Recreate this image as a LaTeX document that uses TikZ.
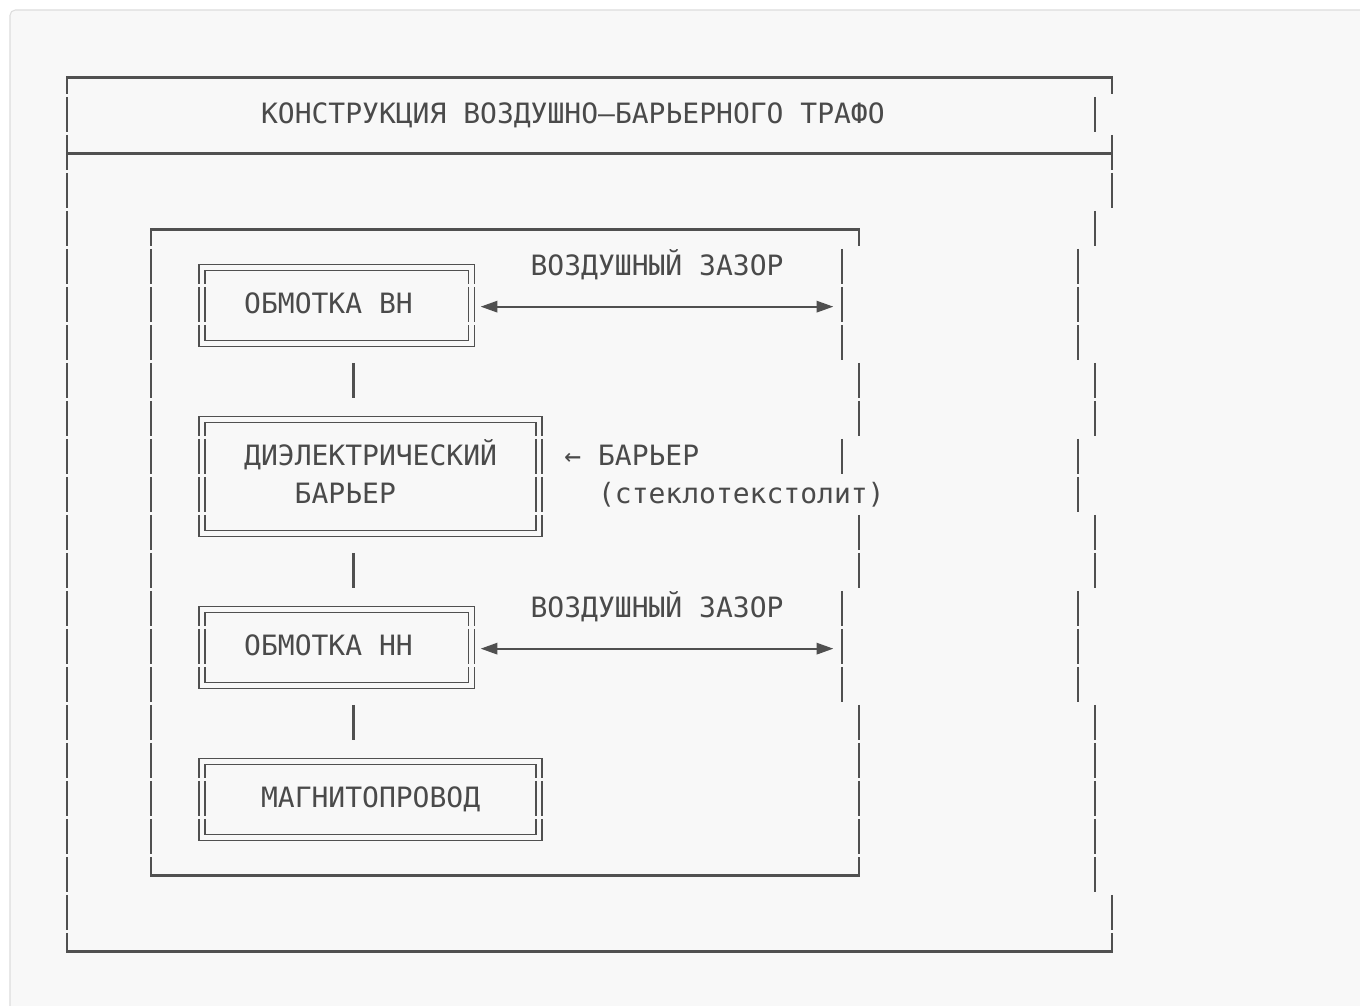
\documentclass[tikz,border=0pt]{standalone}
\usepackage{fontspec}
\newfontfamily\monofnt{DejaVu Sans Mono}
\usetikzlibrary{arrows.meta}
\definecolor{inkc}{HTML}{505050}
\definecolor{txtc}{HTML}{4A4A4A}
\definecolor{bgc}{HTML}{F8F8F8}
\definecolor{framec}{HTML}{DDDDDD}
\def\hi{0.49}
\def\lo{0.43}
\def\dxx{0.178}
\def\dyy{0.079}
\newcommand\vbar[2]{\draw[ln] (#1,{#2-\hi}) -- (#1,{#2+\lo});}
\newcommand\dblbox[4]{%
  \pgfmathsetmacro\xA{#1-\dxx}\pgfmathsetmacro\xB{#1+\dxx}%
  \pgfmathsetmacro\xC{#2-\dxx}\pgfmathsetmacro\xD{#2+\dxx}%
  \pgfmathsetmacro\yA{#3-\dyy}\pgfmathsetmacro\yB{#3+\dyy}%
  \pgfmathsetmacro\yC{#4-\dyy}\pgfmathsetmacro\yD{#4+\dyy}%
  \draw[dbl] (\xA,{#3+\lo}) -- (\xA,\yA) -- (\xD,\yA) -- (\xD,{#3+\lo});
  \draw[dbl] (\xB,{#3+\lo}) -- (\xB,\yB) -- (\xC,\yB) -- (\xC,{#3+\lo});
  \draw[dbl] (\xA,{#4-\hi}) -- (\xA,\yD) -- (\xD,\yD) -- (\xD,{#4-\hi});
  \draw[dbl] (\xB,{#4-\hi}) -- (\xB,\yC) -- (\xC,\yC) -- (\xC,{#4-\hi});
  \pgfmathtruncatemacro\rs{#3+1}\pgfmathtruncatemacro\re{#4-1}%
  \foreach \r in {\rs,...,\re}{%
    \draw[dbl] (\xA,{\r-\hi}) -- (\xA,{\r+\lo});
    \draw[dbl] (\xB,{\r-\hi}) -- (\xB,{\r+\lo});
    \draw[dbl] (\xC,{\r-\hi}) -- (\xC,{\r+\lo});
    \draw[dbl] (\xD,{\r-\hi}) -- (\xD,{\r+\lo});
  }%
}
\begin{document}
\begin{tikzpicture}[x=12.6375pt,y=-28.5pt,
  ln/.style={draw=inkc,line width=1.7pt},
  dbl/.style={draw=inkc,line width=1.3pt},
  arr/.style={draw=inkc,line width=1.5pt,{Triangle[length=12.5pt,width=8.5pt]}-{Triangle[length=12.5pt,width=8.5pt]}},
  txt/.style={font=\monofnt\fontsize{21}{21}\selectfont,text=txtc,inner sep=0pt,anchor=base west}]
\useasboundingbox (-3.976,-2.0395) rectangle (76.736,24.434);
\fill[white] (-3.976,-2.0395) rectangle (76.736,24.434);
\begin{scope}
\clip (-3.976,-2.0395) rectangle (76.736,24.434);
\draw[fill=bgc,draw=framec,line width=0.8pt,rounded corners=4pt] (-3.383,-1.776) rectangle (80,26);
\end{scope}
% outer frame
\draw[ln] (0,\lo) -- (0,0) -- (62,0) -- (62,\lo);
\vbar{0}{1}\vbar{61}{1}
\draw[ln] (0,{2-\hi}) -- (0,{2+\lo});
\draw[ln] (0,2) -- (62,2);
\draw[ln] (62,{2-\hi}) -- (62,{2+\lo});
\foreach \r in {3,...,22}{\vbar{0}{\r}}
\vbar{62}{3}\vbar{61}{4}
\foreach \r in {5,6,7,10,11,14,15,16}{\vbar{60}{\r}}
\foreach \r in {8,9,12,13,17,18,19,20,21}{\vbar{61}{\r}}
\vbar{62}{22}
\draw[ln] (0,{23-\hi}) -- (0,23) -- (62,23) -- (62,{23-\hi});
% inner frame
\draw[ln] (5,{4+\lo}) -- (5,4) -- (47,4) -- (47,{4+\lo});
\foreach \r in {5,...,20}{\vbar{5}{\r}}
\foreach \r in {5,6,7,10,14,15,16}{\vbar{46}{\r}}
\foreach \r in {8,9,12,13,17,18,19,20}{\vbar{47}{\r}}
\draw[ln] (5,{21-\hi}) -- (5,21) -- (47,21) -- (47,{21-\hi});
% double boxes
\dblbox{8}{24}{5}{7}
\dblbox{8}{28}{9}{12}
\dblbox{8}{24}{14}{16}
\dblbox{8}{28}{18}{20}
% connectors between boxes
\coordinate (c1a) at (17,{8-\hi}); \coordinate (c1b) at (17,{8+\lo});
\coordinate (c2a) at (17,{13-\hi}); \coordinate (c2b) at (17,{13+\lo});
\coordinate (c3a) at (17,{17-\hi}); \coordinate (c3b) at (17,{17+\lo});
\draw[ln] (c1a) -- (c1b);
\draw[ln] (c2a) -- (c2b);
\draw[ln] (c3a) -- (c3b);
% gap arrows
\coordinate (g1l) at (24.55,6.03); \coordinate (g1r) at (45.48,6.03);
\coordinate (g2l) at (24.55,15.03); \coordinate (g2r) at (45.48,15.03);
\draw[arr] (g1l) -- (g1r);
\draw[arr] (g2l) -- (g2r);
% texts
\node[txt] (title) at (11.5,1.21) {КОНСТРУКЦИЯ ВОЗДУШНО–БАРЬЕРНОГО ТРАФО};
\node[txt] (gap1) at (27.5,5.21) {ВОЗДУШНЫЙ ЗАЗОР};
\node[txt] (hv) at (10.5,6.21) {ОБМОТКА ВН};
\node[txt] (bar1) at (10.5,10.21) {ДИЭЛЕКТРИЧЕСКИЙ};
\node[txt] (bar2) at (13.5,11.21) {БАРЬЕР};
\node[txt] (barnote) at (29.5,10.21) {← БАРЬЕР};
\node[txt] (mat) at (31.5,11.21) {(стеклотекстолит)};
\node[txt] (gap2) at (27.5,14.21) {ВОЗДУШНЫЙ ЗАЗОР};
\node[txt] (lv) at (10.5,15.21) {ОБМОТКА НН};
\node[txt] (core) at (11.5,19.21) {МАГНИТОПРОВОД};
\end{tikzpicture}
\end{document}
